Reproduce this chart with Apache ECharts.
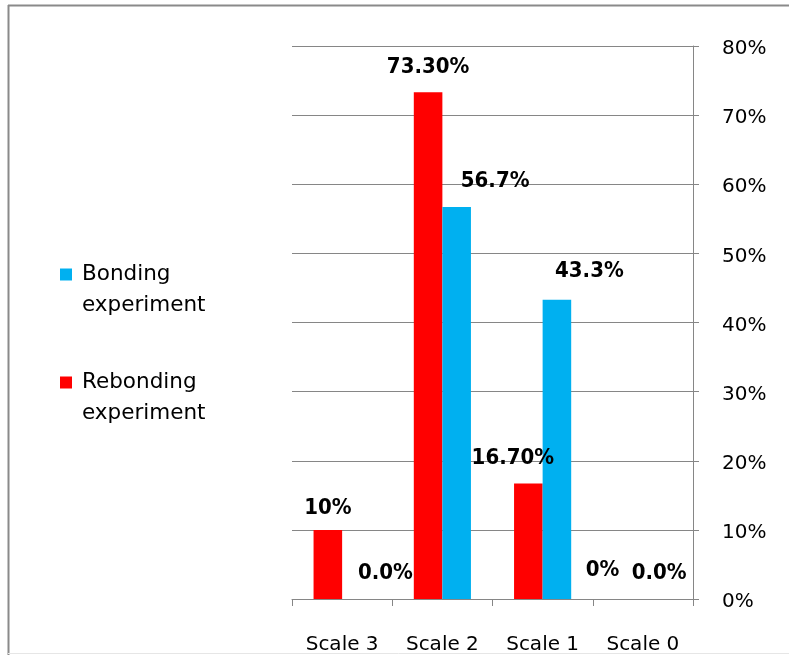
<!DOCTYPE html>
<html>
<head>
<meta charset="utf-8">
<script src="https://cdn.jsdelivr.net/npm/echarts@6/dist/echarts.min.js"></script>
<style>
  html, body { margin: 0; padding: 0; background: #ffffff; }
  #chart { width: 789px; height: 655px; }
</style>
</head>
<body>
<div id="chart"></div>
<script>
// Category axis and series values (percent)
const categories = ['Scale 3', 'Scale 2', 'Scale 1', 'Scale 0'];
const rebondingValues = [10, 73.3, 16.7, 0];
const bondingValues = [0, 56.7, 43.3, 0];
// Decimal places shown in each point's value label
const rebondingDecimals = [0, 2, 2, 0];
const bondingDecimals = [1, 1, 1, 1];
const yTicks = [0, 10, 20, 30, 40, 50, 60, 70, 80];

const RED = '#FF0000';
const BLUE = '#00B0F0';
const GRID_GREY = '#868686';
const REGULAR_FONT = "'DejaVu Sans', sans-serif";
const BOLD_FONT = "'DejaVu Sans Condensed', 'DejaVu Sans', sans-serif";

// Hand-placed label nudges, per point
const rebondingLabelOffsets = [[0, -11], [0, -14.5], [-15.5, -14.5], [-26, -18]];
const bondingLabelOffsets = [[29, -15], [38.5, -14.5], [32.5, -17], [2, -15]];

function buildData(values, decimals, offsets) {
  return values.map((v, i) => ({
    value: v,
    label: {
      offset: offsets[i],
      formatter: () => v.toFixed(decimals[i]) + '%'
    }
  }));
}

const labelStyle = {
  show: true,
  position: 'top',
  distance: 0,
  fontFamily: BOLD_FONT,
  fontWeight: 'bold',
  fontSize: 22,
  color: '#000000'
};

const chart = echarts.init(document.getElementById('chart'), null, { renderer: 'canvas' });

chart.setOption({
  animation: false,
  backgroundColor: '#ffffff',
  grid: { left: 292, right: 96, top: 46, bottom: 56, containLabel: false },
  legend: {
    orient: 'vertical',
    left: 60,
    top: 228,
    padding: 0,
    itemGap: 15,
    itemWidth: 12,
    itemHeight: 12,
    icon: 'rect',
    data: ['Bonding experiment', 'Rebonding experiment'],
    // a blank first line keeps the square beside the first word
    formatter: name => ' \n' + name.replace(' ', '\n'),
    textStyle: {
      fontFamily: REGULAR_FONT,
      fontSize: 21.5,
      lineHeight: 31,
      color: '#000000',
      padding: [0, 0, 0, 5]
    }
  },
  xAxis: {
    type: 'category',
    data: categories,
    axisLine: { show: true, lineStyle: { color: GRID_GREY, width: 1 } },
    axisTick: { show: true, length: 7, lineStyle: { color: GRID_GREY } },
    axisLabel: { margin: 36, fontFamily: REGULAR_FONT, fontSize: 20, color: '#000000' },
    splitLine: { show: false }
  },
  yAxis: {
    type: 'value',
    position: 'right',
    min: yTicks[0],
    max: yTicks[yTicks.length - 1],
    interval: yTicks[1] - yTicks[0],
    axisLine: { show: true, lineStyle: { color: GRID_GREY, width: 1 } },
    axisTick: { show: true, length: 6, lineStyle: { color: GRID_GREY } },
    axisLabel: {
      margin: 29,
      fontFamily: REGULAR_FONT,
      fontSize: 20,
      color: '#000000',
      // labels sit a little below their gridlines
      verticalAlign: 'top',
      lineHeight: 6,
      formatter: '{value}%'
    },
    splitLine: { show: true, lineStyle: { color: GRID_GREY, width: 1 } }
  },
  series: [
    {
      name: 'Rebonding experiment',
      type: 'bar',
      barGap: '0%',
      barCategoryGap: '43%',
      itemStyle: { color: RED },
      label: labelStyle,
      data: buildData(rebondingValues, rebondingDecimals, rebondingLabelOffsets)
    },
    {
      name: 'Bonding experiment',
      type: 'bar',
      barGap: '0%',
      barCategoryGap: '43%',
      itemStyle: { color: BLUE },
      label: labelStyle,
      data: buildData(bondingValues, bondingDecimals, bondingLabelOffsets)
    }
  ],
  graphic: [
    // outer frame: dark top and left edges, faint bottom edge
    { type: 'line', shape: { x1: 8, y1: 5.5, x2: 789, y2: 5.5 }, style: { stroke: '#8a8a8a', lineWidth: 2 }, silent: true },
    { type: 'line', shape: { x1: 8.5, y1: 5, x2: 8.5, y2: 655 }, style: { stroke: '#8a8a8a', lineWidth: 2 }, silent: true },
    { type: 'line', shape: { x1: 8, y1: 653.5, x2: 789, y2: 653.5 }, style: { stroke: '#e6e6e6', lineWidth: 1 }, silent: true }
  ]
});
</script>
</body>
</html>
